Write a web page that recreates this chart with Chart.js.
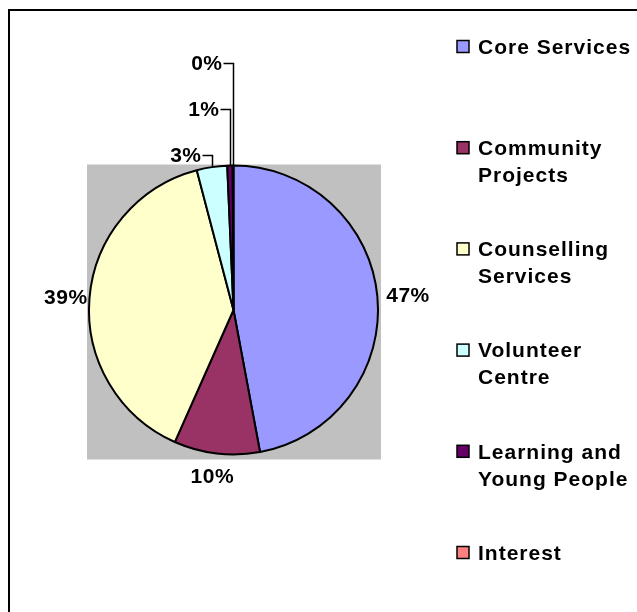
<!DOCTYPE html>
<html lang="en">
  <head>
    <meta charset="UTF-8" />
    <title>Pie chart</title>
    <script src="https://cdn.jsdelivr.net/npm/chart.js"></script>
    <style>
      body { margin: 0; background: #fff; }
    </style>
  </head>
  <body>
    <canvas id="pieChart" width="637" height="612"></canvas>

    <script>
      // === Data ===
      const categories = [
        "Core Services",
        "Community Projects",
        "Counselling Services",
        "Volunteer Centre",
        "Learning and Young People",
        "Interest",
      ];
      const shares = [47.06, 9.6, 39.25, 3.4, 0.6, 0.09];
      const sliceColors = ["#9999FF", "#993366", "#FFFFCC", "#CCFFFF", "#660066", "#FF8080"];

      const FONT = 'bold 21px "Liberation Sans", Arial, sans-serif';

      function wrapWords(ctx, text, maxWidth) {
        const words = text.split(" ");
        const lines = [];
        let line = "";
        words.forEach((w) => {
          const test = line ? line + " " + w : w;
          if (line && ctx.measureText(test).width > maxWidth) {
            lines.push(line);
            line = w;
          } else {
            line = test;
          }
        });
        if (line) lines.push(line);
        return lines;
      }

      // frame, grey plot area, labels with leader lines, legend
      const excelLook = {
        id: "excelLook",
        beforeDraw(chart) {
          const { ctx, chartArea: a } = chart;
          ctx.save();
          ctx.fillStyle = "#fff";
          ctx.fillRect(0, 0, chart.width, chart.height);
          ctx.fillStyle = "#C0C0C0";
          ctx.fillRect(a.left - 1, a.top, a.right - a.left + 3, a.bottom - a.top + 4);
          ctx.strokeStyle = "#000";
          ctx.lineWidth = 2;
          ctx.strokeRect(9, 10, chart.width + 20, chart.height + 20);
          ctx.restore();
        },
        afterDatasetsDraw(chart) {
          const { ctx } = chart;
          const meta = chart.getDatasetMeta(0);
          const values = chart.data.datasets[0].data;
          const total = values.reduce((s, v) => s + v, 0);

          ctx.save();
          ctx.font = FONT;
          ctx.letterSpacing = "0.5px";
          ctx.fillStyle = "#000";
          ctx.strokeStyle = "#000";
          ctx.lineWidth = 1.5;
          ctx.textBaseline = "middle";

          let stack = 0;
          meta.data.forEach((arc, i) => {
            const p = arc.getProps(["x", "y", "startAngle", "endAngle", "outerRadius"], true);
            const mid = (p.startAngle + p.endAngle) / 2;
            const dx = Math.cos(mid);
            const dy = Math.sin(mid);
            const r = p.outerRadius;
            const pct = values[i] / total;
            const text = Math.round(pct * 100) + "%";

            if (pct >= 0.05) {
              const gap = Math.abs(dy) > 0.7 ? 15 : dx > 0 ? 9 : 2;
              const ax = p.x + (r + gap) * dx;
              const ay = p.y + (r + gap) * dy;
              const w = ctx.measureText(text).width;
              ctx.textAlign = "center";
              ctx.fillText(text, ax + (dx * w) / 2, ay + dy * 7.5 + 1);
            } else {
              const ex = Math.round(p.x + r * dx) + 0.5;
              const ey = p.y + r * dy;
              const ly = Math.round(p.y - r - 11 - stack * 46) + 0.5;
              stack++;
              ctx.beginPath();
              ctx.moveTo(ex, ey);
              ctx.lineTo(ex, ly);
              ctx.lineTo(ex - 10, ly);
              ctx.stroke();
              ctx.textAlign = "right";
              ctx.fillText(text, ex - 11, ly + 1);
            }
          });

          // legend
          const boxX = 457;
          const textX = 478;
          const firstY = 47;
          const step = 101.2;
          ctx.letterSpacing = "1px";
          ctx.textAlign = "left";
          chart.data.labels.forEach((label, i) => {
            const cy = firstY + i * step;
            ctx.fillStyle = sliceColors[i];
            ctx.fillRect(boxX, cy - 6.5, 12, 12);
            ctx.lineWidth = 1.5;
            ctx.strokeRect(boxX, cy - 6.5, 12, 12);
            ctx.fillStyle = "#000";
            const lines = wrapWords(ctx, label, chart.width - textX - 2);
            lines.forEach((ln, j) => ctx.fillText(ln, textX, cy + 1 + j * 27));
          });
          ctx.restore();
        },
      };

      new Chart(document.getElementById("pieChart"), {
        type: "pie",
        data: {
          labels: categories,
          datasets: [
            {
              data: shares,
              backgroundColor: sliceColors,
              borderColor: "#000",
              borderWidth: 2,
            },
          ],
        },
        options: {
          responsive: false,
          animation: false,
          events: [],
          layout: { padding: { left: 88, right: 258, top: 164.5, bottom: 156.5 } },
          plugins: {
            legend: { display: false },
            tooltip: { enabled: false },
          },
        },
        plugins: [excelLook],
      });
    </script>
  </body>
</html>
